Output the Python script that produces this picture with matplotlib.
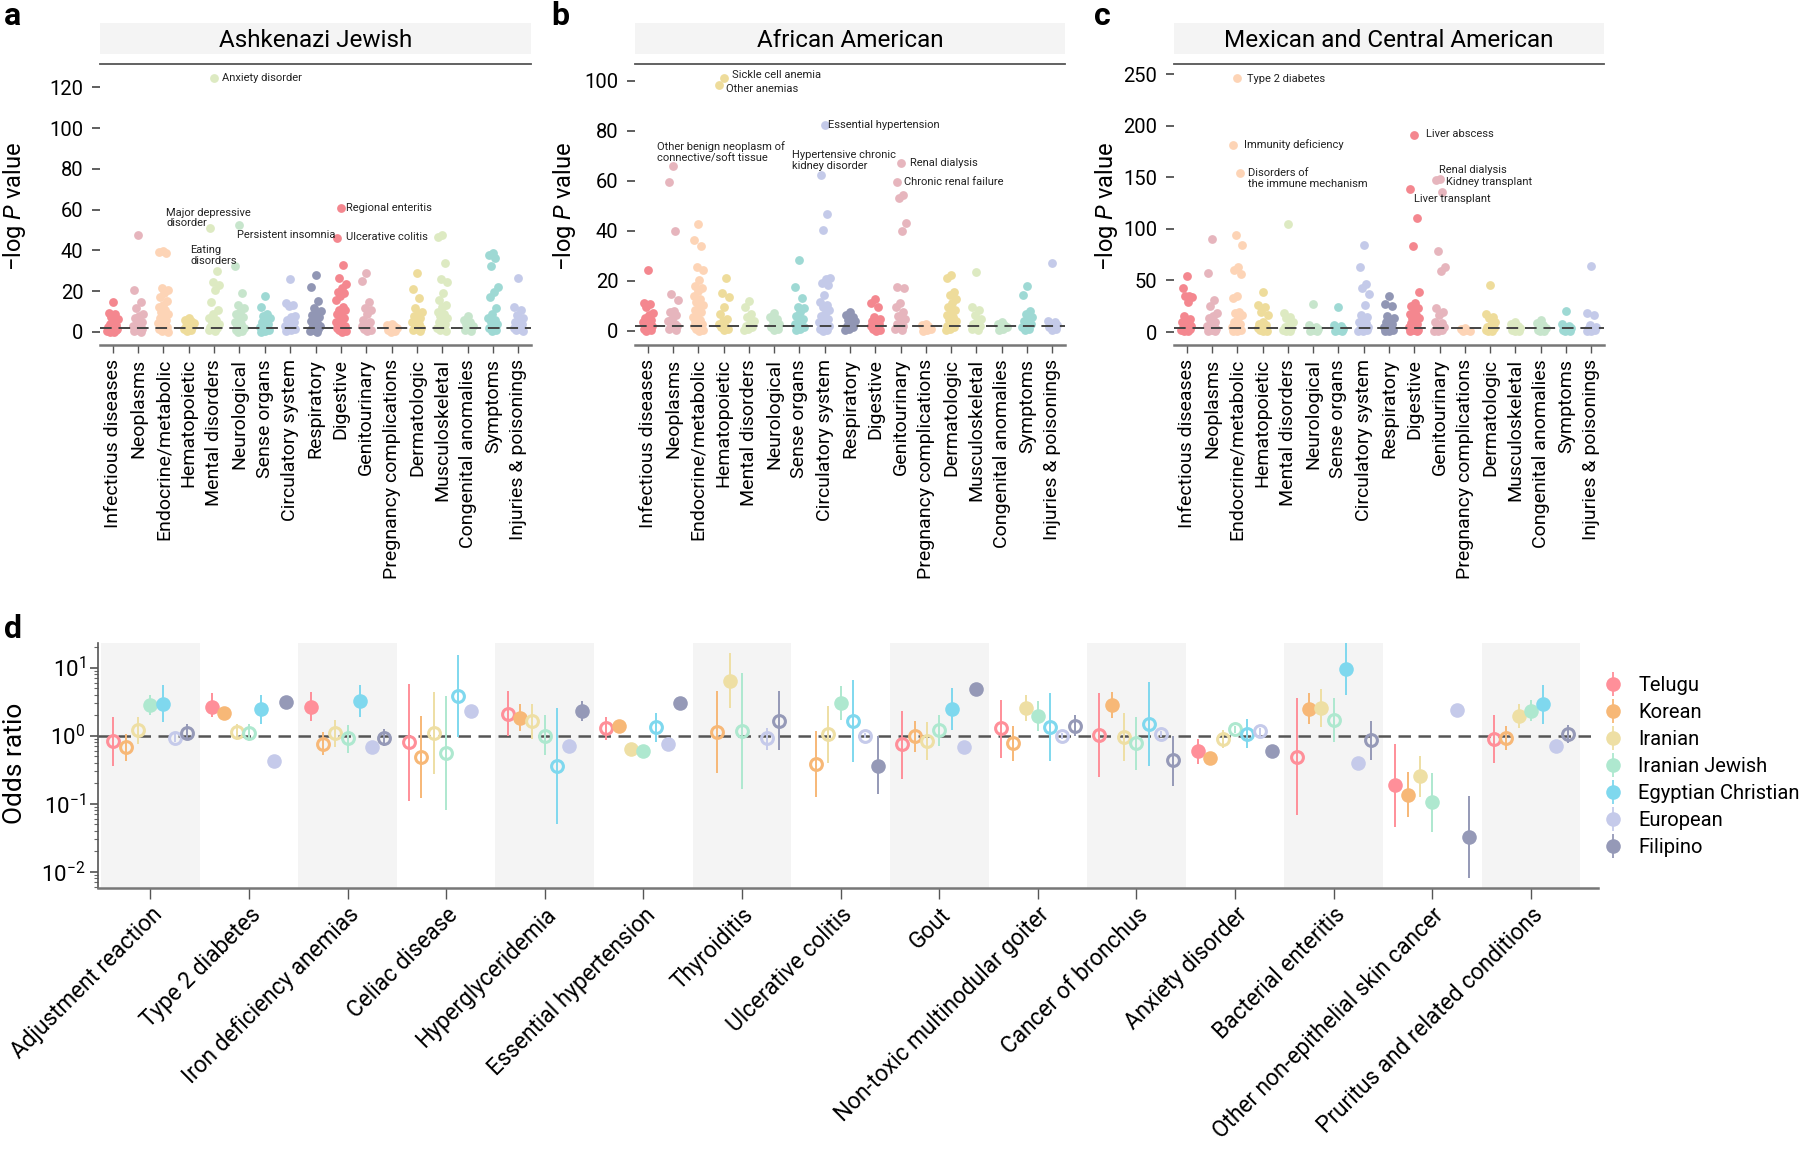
import numpy as np
import matplotlib
matplotlib.use('Agg')
import matplotlib.pyplot as plt
from matplotlib.lines import Line2D
from matplotlib.ticker import LogLocator, NullFormatter

plt.rcParams['font.family'] = ['Roboto', 'DejaVu Sans']
plt.rcParams['mathtext.fontset'] = 'custom'
plt.rcParams['mathtext.rm'] = 'Roboto'
plt.rcParams['mathtext.it'] = 'Roboto:italic'

nan = np.nan

# ---- panels a-c : phecode categories and -log P values ----
phecats = ['Infectious diseases', 'Neoplasms', 'Endocrine/metabolic', 'Hematopoietic',
           'Mental disorders', 'Neurological', 'Sense organs', 'Circulatory system',
           'Respiratory', 'Digestive', 'Genitourinary', 'Pregnancy complications',
           'Dermatologic', 'Musculoskeletal', 'Congenital anomalies', 'Symptoms',
           'Injuries & poisonings']

cat_colors = ['#F4878F', '#E6B5BD', '#FDD4B6', '#EEDC9B', '#DDEAC2',
              '#C7E5CC', '#9ED9D4', '#C4CAE9', '#9196B4']

aj_logp = [
    [14.8, 9.2, 8.6, 7.5, 6.5, 5, 4, 3.5, 3, 2.5, 2, 1.8, 1.5, 1.2, 1, 0.8, 0.5, 0.3, 0.2, 0.1],
    [47.7, 20.6, 14.5, 11.5, 8.7, 8, 6.6, 5, 4, 3, 2.5, 2, 1.5, 1, 0.5, 0.2],
    [39.8, 39.2, 38.6, 21.7, 20.6, 19, 17, 15, 13, 12, 11, 10, 9, 8, 7, 6, 5, 4.5, 4, 3, 2.5, 2, 1.5, 1, 0.5, 0.2],
    [6.8, 6, 5.5, 5, 4.5, 4, 3, 2.5, 2, 1.5, 1, 0.5],
    [124.7, 51, 30, 24.7, 23, 20.6, 14.5, 10.7, 9, 7, 6, 5, 4, 3, 2.5, 2, 1.5, 1, 0.5],
    [52.3, 32.4, 19, 13, 11.5, 10, 9, 7.5, 6, 5, 4, 3, 2, 1.5, 1, 0.5, 0.2],
    [17.6, 12.3, 9, 8, 7, 6, 5, 4, 3, 2.5, 2, 1.5, 1, 0.5, 0.2],
    [25.8, 14, 13.2, 12.5, 8, 7.4, 6, 5, 4, 3, 2.5, 2, 1.5, 1, 0.5],
    [27.7, 22.2, 15.1, 11.5, 10.5, 9.5, 8.5, 7.5, 6.5, 5.5, 4.5, 4, 3, 2.5, 2, 1.5, 1, 0.5, 0.2],
    [60.8, 46, 32.9, 26.7, 23.4, 21.7, 19.8, 19, 17.6, 15.6, 12, 11, 10.7, 9, 8.7, 7, 6, 5, 4, 3.5, 3, 2.5, 2, 1.5, 1, 0.5, 0.2],
    [28.8, 25, 14.8, 11.5, 11, 9, 6, 5, 4, 3, 2, 1.5, 1, 0.5],
    [4, 3.5, 3, 2.5, 2, 1.5, 1, 0.5, 0.2],
    [28.8, 21, 16.8, 11.5, 10, 9, 8, 7, 6, 5, 4, 3, 2, 1.5, 1, 0.5],
    [47.5, 46.5, 34, 25.8, 24.7, 19.3, 15.6, 13, 12, 10, 9, 8, 7, 6, 5, 4, 3, 2, 1.5, 1, 0.5],
    [7.9, 5.8, 5, 4, 3, 2, 1, 0.5],
    [38.7, 37.5, 36.2, 32.4, 22.2, 19.8, 17.3, 11.5, 9, 7, 6, 5, 4, 3, 2, 1, 0.5],
    [26.7, 12.3, 10.7, 8.2, 7, 6, 5, 4, 3, 2, 1.5, 1, 0.5],
]

aa_logp = [
    [24.6, 11.4, 11, 9.8, 7.2, 6.5, 5.2, 4.5, 4, 3.5, 3, 2.5, 2, 1.5, 1, 0.5, 0.2],
    [65.9, 59.6, 40, 14.7, 12.5, 8, 7.5, 6.5, 5, 4, 3, 2.5, 2, 1.5, 1, 0.5],
    [43, 36.4, 34.1, 25.5, 24.4, 20.5, 18.2, 17.1, 16, 14.2, 13, 11.8, 10.5, 9.5, 8.5, 7.5, 6.5, 5.5, 4.5, 4, 3, 2.5, 2, 1.5, 1, 0.5, 0.2],
    [101.2, 98.4, 21.1, 15.4, 13.8, 9.8, 6.8, 5, 4, 3, 2, 1.5, 1, 0.5],
    [12.2, 9.8, 6.8, 5.8, 4, 3, 2, 1.5, 1, 0.5],
    [7.2, 5.8, 5, 4, 3, 2, 1.5, 1, 0.5],
    [28.6, 17.5, 13.1, 9.8, 9.2, 7.5, 6, 5, 4, 3, 2.5, 2, 1.5, 1, 0.5],
    [82.2, 62.5, 47, 40.5, 21.4, 21, 19.1, 18.5, 14.5, 11.8, 10.5, 9.5, 8.5, 7, 6, 5, 4, 3.5, 3, 2.5, 2, 1.5, 1, 0.5, 0.2],
    [7.6, 6.5, 5.5, 4.5, 4, 3, 2, 1.5, 1, 0.5],
    [12.7, 11.2, 9.8, 5.8, 5, 4.5, 4, 3, 2.5, 2, 1.5, 1, 0.5, 0.2],
    [67.2, 59.6, 54.3, 53, 43.3, 40, 17.8, 17.4, 11.2, 9.8, 7.8, 6, 5, 4, 3, 2, 1.5, 1, 0.5],
    [3, 2.5, 2, 1.5, 1, 0.5, 0.2],
    [22.4, 21.4, 15.8, 14.5, 13, 11.2, 9.8, 8.5, 7.5, 6.5, 5.5, 4.5, 4, 3, 2, 1.5, 1, 0.5],
    [23.5, 9.8, 8.5, 6.5, 5, 4, 3, 2, 1.5, 1, 0.5],
    [3.6, 3, 2.5, 2, 1.5, 1, 0.5],
    [18.1, 14.5, 8.1, 7, 5.8, 5, 4, 3, 2, 1.5, 1, 0.5],
    [27.1, 3.9, 3.5, 3, 2.5, 2, 1.5, 1, 0.5],
]

mx_logp = [
    [54.5, 42.3, 35.2, 34.5, 34.2, 29.4, 15.5, 13, 11, 9.4, 8, 6.8, 5.5, 4.5, 4, 3, 2, 1.5, 1, 0.5],
    [90.6, 57.7, 31, 25.2, 18, 16, 13.2, 10, 8.4, 6, 5, 4, 3, 2, 1, 0.5],
    [246.3, 181.8, 154.4, 93.9, 84.8, 63.2, 60, 56, 35.2, 33, 19.7, 18, 16.5, 13.2, 10, 8, 6, 5, 4, 3, 2, 1, 0.5],
    [39, 26.1, 24.5, 19, 16.5, 10, 8, 6.8, 5, 4, 3, 2, 1, 0.5],
    [105.2, 18, 15, 13.2, 10, 6.8, 5, 4, 3, 2, 1, 0.5],
    [26.8, 6.8, 5, 4, 3, 2, 1, 0.5],
    [23.9, 6.8, 5.5, 4, 3, 2, 1, 0.5],
    [84.8, 63.2, 46.1, 42.3, 36.5, 26.1, 16.5, 15, 13.2, 10, 8.4, 6, 5, 4, 3, 2, 1, 0.5],
    [35.2, 26.8, 25.2, 15.8, 13.2, 11, 9.4, 8, 6, 5, 4, 3, 2, 1, 0.5],
    [191.5, 138.3, 110.7, 83.2, 38.4, 27.7, 25.2, 22.9, 19.7, 17, 16.5, 14, 13.2, 11, 9, 8, 6, 5, 4, 3, 2, 1.5, 1, 0.5],
    [148.3, 147.5, 136, 78.4, 63.2, 59, 22.9, 19.7, 16.5, 10, 8.4, 6, 5, 4, 3, 2, 1, 0.5],
    [4, 3, 2, 1, 0.5],
    [45.5, 17.1, 15, 13.2, 10, 6.8, 5, 4, 3, 2, 1, 0.5],
    [9.4, 8, 6, 5, 4, 3, 2, 1, 0.5],
    [11.6, 9, 7, 5, 4, 3, 2, 1, 0.5],
    [20.3, 7.7, 6, 5, 4, 3, 2, 1, 0.5],
    [64.2, 18, 16.5, 6.8, 5, 4, 3, 2, 1, 0.5],
]

# ---- panel d : odds ratios ----
diseases = ['Adjustment reaction', 'Type 2 diabetes', 'Iron deficiency anemias', 'Celiac disease',
            'Hyperglyceridemia', 'Essential hypertension', 'Thyroiditis', 'Ulcerative colitis',
            'Gout', 'Non-toxic multinodular goiter', 'Cancer of bronchus', 'Anxiety disorder',
            'Bacterial enteritis', 'Other non-epithelial skin cancer', 'Pruritus and related conditions']
pops = ['Telugu', 'Korean', 'Iranian', 'Iranian Jewish', 'Egyptian Christian', 'European', 'Filipino']
pop_colors = ['#FF8F99', '#F7B877', '#EEDFA4', '#AEE8CF', '#7FD8EE', '#C5CAEA', '#9599B7']

telugu_or = [0.83, 2.67, 2.63, 0.80, 2.06, 1.28, nan, nan, 0.74, 1.28, 1.02, 0.60, 0.49, 0.185, 0.89]
telugu_lo = [0.36, 1.9, 1.66, 0.11, 1.0, 0.86, nan, nan, 0.23, 0.47, 0.25, 0.38, 0.069, 0.045, 0.39]
telugu_hi = [1.86, 4.2, 4.3, 5.7, 4.47, 1.86, nan, nan, 2.27, 3.37, 4.2, 0.89, 3.57, 0.75, 2.03]
telugu_sig = [0, 1, 1, 0, 0, 0, 0, 0, 0, 0, 0, 1, 0, 1, 0]

korean_or = [0.69, 2.15, 0.755, 0.48, 1.82, 1.36, 1.12, 0.38, 0.99, 0.77, 2.79, 0.47, 2.49, 0.136, 0.92]
korean_lo = [0.43, 1.75, 0.51, 0.12, 1.16, 1.2, 0.28, 0.125, 0.57, 0.43, 1.82, 0.41, 1.5, 0.063, 0.62]
korean_hi = [1.06, 2.6, 1.12, 1.97, 2.9, 1.55, 4.47, 1.18, 1.66, 1.39, 4.3, 0.54, 4.2, 0.29, 1.4]
korean_sig = [0, 1, 0, 0, 1, 1, 0, 0, 0, 0, 1, 1, 1, 1, 0]

iranian_or = [1.22, 1.12, 1.08, 1.08, 1.62, 0.63, 6.27, 1.05, 0.845, 2.55, 0.945, 0.89, 2.55, 0.256, 1.92]
iranian_lo = [0.74, 0.85, 0.69, 0.27, 0.89, 0.56, 2.55, 0.39, 0.44, 1.62, 0.42, 0.66, 1.33, 0.127, 1.3]
iranian_hi = [1.9, 1.5, 1.7, 4.3, 2.9, 0.71, 16.4, 2.75, 1.6, 4.0, 2.13, 1.2, 4.8, 0.5, 2.9]
iranian_sig = [0, 0, 0, 0, 0, 1, 1, 0, 0, 1, 0, 0, 1, 1, 1]

irjew_or = [2.85, 1.09, 0.91, 0.56, 1.0, 0.59, 1.16, 3.05, 1.22, 1.92, 0.77, 1.24, 1.70, 0.104, 2.33]
irjew_lo = [2.03, 0.83, 0.55, 0.08, 0.51, 0.52, 0.165, 1.72, 0.71, 1.18, 0.31, 1.1, 0.8, 0.038, 1.62]
irjew_hi = [4.0, 1.48, 1.45, 3.86, 2.03, 0.67, 8.2, 5.4, 1.99, 3.26, 1.86, 1.4, 3.57, 0.28, 3.3]
irjew_sig = [1, 0, 0, 0, 0, 1, 0, 1, 0, 1, 0, 0, 0, 1, 1]

egypt_or = [2.92, 2.43, 3.23, 3.82, 0.36, 1.32, nan, 1.66, 2.49, 1.32, 1.48, 1.06, 9.6, nan, 2.92]
egypt_lo = [1.57, 1.5, 1.86, 0.95, 0.05, 0.8, nan, 0.41, 1.21, 0.42, 0.36, 0.66, 4.0, nan, 1.5]
egypt_hi = [5.6, 4.0, 5.6, 15.5, 2.55, 2.15, nan, 6.5, 5.0, 4.2, 6.06, 1.76, 23, nan, 5.6]
egypt_sig = [1, 1, 1, 0, 0, 0, 0, 0, 1, 0, 0, 0, 1, 0, 1]

europ_or = [0.92, 0.43, 0.67, 2.27, 0.705, 0.74, 0.92, 1.0, 0.69, 0.99, 1.06, 1.15, 0.40, 2.41, 0.71]
europ_lo = [0.8, 0.4, 0.62, 2.1, 0.66, 0.7, 0.62, 0.92, 0.64, 0.9, 0.95, 1.0, 0.37, 2.25, 0.66]
europ_hi = [1.06, 0.46, 0.72, 2.45, 0.75, 0.78, 1.3, 1.08, 0.74, 1.08, 1.18, 1.3, 0.43, 2.58, 0.76]
europ_sig = [0, 1, 1, 1, 1, 1, 0, 0, 1, 0, 0, 0, 1, 1, 1]

filip_or = [1.10, 3.08, 0.935, nan, 2.27, 2.98, 1.66, 0.36, 4.84, 1.39, 0.44, 0.59, 0.87, 0.032, 1.06]
filip_lo = [0.85, 2.65, 0.71, nan, 1.62, 2.7, 0.62, 0.137, 4.4, 1.0, 0.18, 0.54, 0.44, 0.0082, 0.77]
filip_hi = [1.5, 3.6, 1.25, nan, 3.2, 3.3, 4.47, 1.0, 5.3, 2.03, 1.0, 0.65, 1.66, 0.13, 1.45]
filip_sig = [0, 1, 0, 0, 1, 1, 0, 1, 1, 0, 0, 1, 0, 1, 0]

W, H = 1800, 1150
fig = plt.figure(figsize=(18, 11.5), dpi=100)


def box(l, t, r, b):
    # pixel box -> figure fraction
    return [l / W, 1 - b / H, (r - l) / W, (b - t) / H]


def manhattan(l, r, title, logp, thr, ylim, yticks, notes):
    ax = fig.add_axes(box(l, 64, r, 345))
    for i, vals in enumerate(logp):
        k = np.arange(len(vals))
        xj = i + 0.42 * (((k * 0.618) + 0.5) % 1 - 0.5)
        ax.scatter(xj, vals, s=40, color=cat_colors[i % 9], linewidths=0, zorder=2)
    ax.axhline(thr, color='#444444', lw=1.4, dashes=(6, 3.5), zorder=3)
    for txt, x, y in notes:
        ax.text(x, y, txt, fontsize=8, ha='left', va='center', linespacing=1.1,
                color='#222222', zorder=4)
    ax.set_xlim(-0.5, 16.5)
    ax.set_ylim(*ylim)
    ax.set_yticks(yticks)
    ax.set_xticks(range(17))
    ax.set_xticklabels(phecats, rotation=90, fontsize=14)
    for s in ['left', 'right']:
        ax.spines[s].set_visible(False)
    ax.spines['top'].set_color('#555555')
    ax.spines['top'].set_linewidth(1.3)
    ax.spines['bottom'].set_color('#777777')
    ax.spines['bottom'].set_linewidth(1.8)
    ax.tick_params(axis='y', length=6, width=1.1, pad=6, labelsize=14.5, color='#333333')
    ax.tick_params(axis='x', length=6, width=1.0, pad=4, color='#555555')
    sax = fig.add_axes(box(l, 23, r, 54))
    sax.set_facecolor('#F4F4F4')
    sax.set_xticks([])
    sax.set_yticks([])
    for s in sax.spines.values():
        s.set_visible(False)
    sax.text(0.5, 0.45, title, ha='center', va='center', fontsize=17.5, transform=sax.transAxes)
    return ax


manhattan(100, 531, 'Ashkenazi Jewish', aj_logp, 2.1, (-6.4, 131.4), range(0, 121, 20), [
    ('Anxiety disorder', 4.33, 124.7),
    ('Major depressive\ndisorder', 2.11, 55.9),
    ('Eating\ndisorders', 3.06, 37.3),
    ('Persistent insomnia', 4.92, 47.5),
    ('Regional enteritis', 9.19, 60.8),
    ('Ulcerative colitis', 9.19, 46.5),
])
manhattan(635, 1065, 'African American', aa_logp, 2.1, (-5.6, 106.8), range(0, 101, 20), [
    ('Sickle cell anemia', 3.32, 102.4),
    ('Other anemias', 3.08, 97.0),
    ('Other benign neoplasm of\nconnective/soft tissue', 0.36, 71.5),
    ('Essential hypertension', 7.15, 82.3),
    ('Hypertensive chronic\nkidney disorder', 5.69, 68.3),
    ('Renal dialysis', 10.38, 67.0),
    ('Chronic renal failure', 10.12, 59.5),
])
manhattan(1174, 1604, 'Mexican and Central American', mx_logp, 4.0, (-12.6, 260), range(0, 251, 50), [
    ('Type 2 diabetes', 2.4, 245.6),
    ('Immunity deficiency', 2.25, 181.8),
    ('Disorders of\nthe immune mechanism', 2.44, 149.2),
    ('Liver abscess', 9.47, 192.2),
    ('Renal dialysis', 9.96, 157.0),
    ('Kidney transplant', 10.24, 145.7),
    ('Liver transplant', 8.97, 128.9),
])

ylab = '\u2212log $\\mathit{P}$ value'
for xl in (15, 565, 1106):
    fig.text(xl / W, 1 - 207 / H, ylab, rotation=90, ha='center', va='center', fontsize=17)

# ---- panel d ----
axd = fig.add_axes(box(98, 643, 1598, 888))
axd.set_yscale('log')
for i in range(0, 15, 2):
    axd.axvspan(i - 0.5, i + 0.5, color='#F4F4F4', lw=0, zorder=0)
axd.axhline(1, color='#555555', lw=1.8, dashes=(5, 3), zorder=1)

series = [
    (telugu_or, telugu_lo, telugu_hi, telugu_sig),
    (korean_or, korean_lo, korean_hi, korean_sig),
    (iranian_or, iranian_lo, iranian_hi, iranian_sig),
    (irjew_or, irjew_lo, irjew_hi, irjew_sig),
    (egypt_or, egypt_lo, egypt_hi, egypt_sig),
    (europ_or, europ_lo, europ_hi, europ_sig),
    (filip_or, filip_lo, filip_hi, filip_sig),
]
for j, (orv, lo, hi, sig) in enumerate(series):
    col = pop_colors[j]
    orv, lo, hi = np.array(orv), np.array(lo), np.array(hi)
    sig = np.array(sig, dtype=bool)
    x = np.arange(len(diseases)) + (j - 3) * 0.125
    ok = ~np.isnan(orv)
    axd.vlines(x[ok], lo[ok], hi[ok], color=col, lw=1.4, zorder=2)
    m = ok & sig
    axd.plot(x[m], orv[m], 'o', ms=10.5, color=col, mec='none', ls='none', zorder=3)
    m = ok & ~sig
    axd.plot(x[m], orv[m], 'o', ms=8.5, mfc='none', mec=col, mew=2.2, ls='none', zorder=3)

axd.set_xlim(-0.53, 14.68)
axd.set_ylim(10 ** -2.24, 10 ** 1.36)
axd.set_xticks(range(len(diseases)))
axd.set_xticklabels(diseases, rotation=45, ha='right', va='top', rotation_mode='anchor', fontsize=16.3)
axd.yaxis.set_major_locator(LogLocator(base=10, numticks=10))
axd.yaxis.set_minor_locator(LogLocator(base=10, subs=np.arange(2, 10), numticks=20))
axd.yaxis.set_minor_formatter(NullFormatter())
for s in ['top', 'right']:
    axd.spines[s].set_visible(False)
axd.spines['left'].set_color('#555555')
axd.spines['left'].set_linewidth(1.2)
axd.spines['bottom'].set_color('#777777')
axd.spines['bottom'].set_linewidth(1.8)
axd.tick_params(axis='y', which='major', length=6, width=1.1, pad=3, labelsize=16, color='#444444')
axd.tick_params(axis='y', which='minor', length=3, width=0.8, color='#666666')
axd.tick_params(axis='x', length=8, width=1.0, pad=3, color='#555555')
fig.text(15 / W, 1 - 763 / H, 'Odds ratio', rotation=90, ha='center', va='center', fontsize=19)

handles = [(Line2D([], [], marker='|', ms=17, mew=1.3, color=c, ls='none'),
            Line2D([], [], marker='o', ms=10.5, color=c, mec='none', ls='none')) for c in pop_colors]
fig.legend(handles, pops, loc='upper left', bbox_to_anchor=(1602 / W, 1 - 676 / H),
           frameon=False, fontsize=14.5, handlelength=1.1, handletextpad=0.7,
           labelspacing=0.4, borderpad=0, borderaxespad=0)

# panel letters
for lab, x, y in [('a', 4, 25), ('b', 551, 25), ('c', 1094, 25), ('d', 4, 638)]:
    fig.text(x / W, 1 - y / H, lab, fontsize=23, fontweight='bold', va='baseline', ha='left')

fig.savefig('out.png', dpi=100)
